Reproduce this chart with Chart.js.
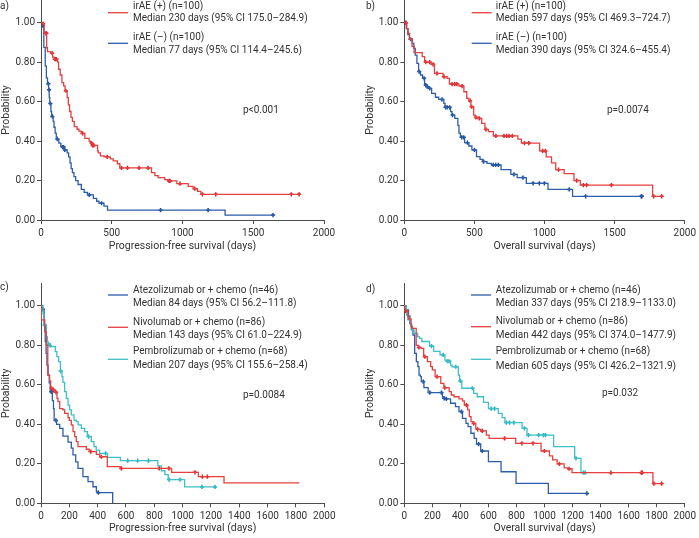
<!DOCTYPE html>
<html><head><meta charset="utf-8">
<script src="https://cdn.jsdelivr.net/npm/chart.js@4.4.1/dist/chart.umd.min.js"></script>
<style>
html,body{margin:0;padding:0;background:#fff;width:699px;height:538px;overflow:hidden;position:relative}
canvas{position:absolute}
</style></head><body>
<canvas id="pa"></canvas><canvas id="pb"></canvas><canvas id="pc"></canvas><canvas id="pd"></canvas>
<script>
// ---------- tick labels ----------
const probTicks = [0, 0.2, 0.4, 0.6, 0.8, 1.0];
const xTicksAB = [0, 500, 1000, 1500, 2000];
const xTicksCD = [0, 200, 400, 600, 800, 1000, 1200, 1400, 1600, 1800, 2000];

// ---------- a) PFS by irAE ----------
const aPosT = [0,12,22,40,46,70,82,95,118,124,136,148,160,170,185,193,202,212,222,235,255,268,285,310,340,352,365,400,405,420,445,490,510,540,557,781,805,828,875,895,960,1040,1075,1105,1130,1824];
const aPosS = [1,0.995,0.946,0.873,0.853,0.845,0.825,0.815,0.80,0.764,0.735,0.696,0.68,0.655,0.62,0.583,0.55,0.52,0.50,0.473,0.46,0.45,0.439,0.414,0.40,0.39,0.378,0.35,0.34,0.325,0.32,0.31,0.30,0.285,0.264,0.24,0.225,0.215,0.205,0.198,0.184,0.17,0.159,0.145,0.13,0.13];
const aPosC = [15,35,38,79,98,104,108,176,294,357,365,373,468,569,611,693,757,905,912,983,1087,1141,1235,1769,1824];
const aNegT = [0,8,20,30,38,46,54,58,62,70,75,86,92,100,108,115,126,140,148,165,185,195,205,213,222,233,245,262,285,305,328,370,393,410,445,470,1301,1640];
const aNegS = [1,0.985,0.875,0.78,0.72,0.69,0.66,0.62,0.59,0.55,0.525,0.50,0.47,0.44,0.42,0.41,0.39,0.375,0.37,0.355,0.34,0.32,0.29,0.26,0.24,0.22,0.20,0.18,0.155,0.14,0.127,0.11,0.095,0.085,0.07,0.05,0.025,0.025];
const aNegC = [10,52,57,66,80,115,153,160,168,341,428,845,1181,1640];

// ---------- b) OS by irAE ----------
const bPosT = [0,18,28,38,55,70,128,145,190,215,276,280,305,322,390,425,445,460,475,495,505,530,552,575,600,635,810,835,965,1012,1050,1080,1140,1210,1255,1771,1835];
const bPosS = [1,0.97,0.946,0.916,0.88,0.848,0.828,0.80,0.789,0.743,0.735,0.726,0.718,0.689,0.679,0.65,0.617,0.605,0.574,0.532,0.52,0.515,0.49,0.459,0.448,0.426,0.41,0.39,0.35,0.32,0.29,0.255,0.235,0.20,0.177,0.12,0.12];
const bPosC = [12,153,181,205,233,283,341,360,375,412,469,481,511,535,582,653,711,730,747,770,857,888,987,1006,1100,1230,1277,1300,1477,1778,1835];
const bNegT = [0,14,25,36,58,68,78,90,102,115,130,145,160,172,195,222,245,282,290,330,340,360,382,390,400,430,460,482,515,540,560,590,620,690,760,805,870,1025,1200,1694];
const bNegS = [1,0.97,0.94,0.916,0.895,0.87,0.836,0.794,0.752,0.735,0.718,0.684,0.676,0.667,0.642,0.622,0.611,0.591,0.571,0.549,0.532,0.515,0.48,0.44,0.419,0.392,0.375,0.355,0.321,0.307,0.296,0.287,0.279,0.255,0.231,0.215,0.186,0.155,0.12,0.12];
const bNegC = [5,45,106,141,153,163,181,269,294,306,323,344,410,424,450,500,565,634,652,671,782,846,919,963,999,1176,1293,1689,1694];

// ---------- c) PFS by drug ----------
const cAteT = [0,10,22,30,36,42,50,58,65,80,88,93,110,132,155,191,214,226,245,261,296,332,367,391,400,506];
const cAteS = [1,0.983,0.90,0.82,0.76,0.70,0.65,0.61,0.565,0.52,0.48,0.42,0.40,0.38,0.34,0.31,0.28,0.245,0.21,0.177,0.135,0.11,0.084,0.059,0.054,0];
const cAteC = [14,73,105,405];
const cNivT = [0,3,26,38,48,61,68,72,85,100,113,120,132,155,167,191,200,214,226,238,249,261,320,340,391,415,468,560,922,1111,1292,1824];
const cNivS = [1,0.93,0.87,0.80,0.65,0.62,0.59,0.583,0.574,0.5625,0.532,0.515,0.48,0.473,0.456,0.434,0.42,0.397,0.363,0.338,0.3125,0.287,0.274,0.262,0.248,0.236,0.186,0.177,0.157,0.135,0.104,0.104];
const cNivC = [75,89,106,351,426,567,835,903,1087,1139,1174];
const cPemT = [0,15,20,38,45,50,60,66,101,112,125,137,148,155,167,179,191,202,214,233,249,262,285,308,327,355,374,390,414,470,560,825,850,875,898,1014,1228];
const cPemS = [1,0.96,0.904,0.845,0.82,0.806,0.80,0.794,0.769,0.743,0.718,0.67,0.642,0.613,0.566,0.532,0.498,0.473,0.448,0.422,0.414,0.397,0.38,0.363,0.338,0.3125,0.287,0.27,0.253,0.233,0.216,0.19,0.165,0.145,0.12,0.083,0.083];
const cPemC = [26,54,64,139,336,456,612,682,758,904,981,1136,1228];

// ---------- d) OS by drug ----------
const dAteT = [0,15,30,40,50,62,74,86,97,105,115,121,140,170,272,280,290,330,365,390,415,440,455,475,498,515,545,600,690,797,1027,1302];
const dAteS = [1,0.98,0.95,0.91,0.88,0.853,0.76,0.718,0.693,0.65,0.642,0.617,0.586,0.561,0.54,0.532,0.529,0.507,0.49,0.465,0.43,0.405,0.389,0.355,0.329,0.30,0.265,0.211,0.16,0.101,0.05,0.05];
const dAteC = [135,182,265,284,300,407,530,556,1302];
const dNivT = [0,5,25,30,48,58,85,100,120,138,165,188,200,220,260,282,320,335,355,390,415,428,452,464,476,490,510,520,545,585,605,795,975,1035,1058,1090,1140,1165,1196,1773,1835];
const dNivS = [1,0.975,0.946,0.934,0.895,0.887,0.80,0.79,0.785,0.743,0.718,0.693,0.676,0.642,0.608,0.586,0.566,0.549,0.54,0.529,0.519,0.498,0.473,0.439,0.414,0.405,0.38,0.375,0.367,0.346,0.329,0.304,0.265,0.24,0.22,0.20,0.18,0.175,0.155,0.10,0.10];
const dNivC = [9,104,147,234,289,443,495,523,556,715,838,918,999,1106,1175,1473,1690,1697,1780,1835];
const dPemT = [0,15,25,45,55,70,95,108,125,180,210,255,290,300,330,340,385,395,410,495,520,565,600,670,698,718,840,875,1065,1215,1260,1289];
const dPemS = [1,0.954,0.93,0.904,0.878,0.861,0.845,0.836,0.82,0.797,0.77,0.752,0.726,0.72,0.70,0.692,0.65,0.62,0.583,0.557,0.54,0.512,0.48,0.456,0.434,0.409,0.38,0.346,0.287,0.228,0.155,0.155];
const dPemC = [194,277,308,320,367,400,485,620,644,727,750,781,857,885,958,992,1006,1224,1277,1289];

// ---------- styling ----------
const FONT = 'Roboto, "Open Sans", sans-serif';
const TXT = '#333333';
const AX = '#4d4d4d';
const RED = '#e5403f', BLUE = '#2c5ea9', CYAN = '#3fbfc7';
const RED_M = '#d9252a', BLUE_M = '#1d4d9c', CYAN_M = '#22b2bb';
const YMAX = 1.115;

function stepPts(T, S) { return T.map((t, i) => ({x: t, y: S[i]})); }
function censPts(T, S, C) {
  return C.map(c => { let v = S[0]; for (let i = 0; i < T.length; i++) { if (T[i] <= c) v = S[i]; } return {x: c, y: v}; });
}
function series(T, S, C, col, mcol) {
  return [
    {data: stepPts(T, S), stepped: true, borderColor: col, borderWidth: 1.3, pointRadius: 0, fill: false},
    {data: censPts(T, S, C), showLine: false, pointStyle: 'cross', pointRadius: 2.1,
     pointBorderColor: mcol, pointBorderWidth: 1.5, borderColor: mcol, backgroundColor: mcol}
  ];
}

function textPlugin(box, items) {
  return {
    id: 'kmtext',
    afterDraw(chart) {
      const ctx = chart.ctx;
      ctx.save();
      for (const it of items) {
        if (it.line) {
          ctx.strokeStyle = it.line; ctx.lineWidth = 1.3;
          ctx.beginPath(); ctx.moveTo(it.x1 - box.left, it.y - box.top); ctx.lineTo(it.x2 - box.left, it.y - box.top); ctx.stroke();
        } else {
          ctx.font = (it.size || 10) + 'px ' + FONT;
          ctx.fillStyle = TXT; ctx.textAlign = 'left'; ctx.textBaseline = 'middle';
          ctx.fillText(it.s, it.x - box.left, it.y - box.top);
        }
      }
      ctx.restore();
    }
  };
}

function panel(id, box, g, xTicks, xTitle, datasets, texts) {
  const cv = document.getElementById(id);
  cv.width = box.w; cv.height = box.h;
  cv.style.left = box.left + 'px'; cv.style.top = box.top + 'px';
  const gridOpts = {drawOnChartArea: false, drawTicks: true, tickLength: 4, color: AX, lineWidth: 1};
  new Chart(cv, {
    type: 'line',
    data: {datasets},
    options: {
      responsive: false, animation: false, devicePixelRatio: 1,
      layout: {padding: {top: g.pt, right: g.pr, left: 0, bottom: 0}},
      plugins: {legend: {display: false}, tooltip: {enabled: false}},
      scales: {
        x: {type: 'linear', min: 0, max: 2000,
            afterBuildTicks: s => { s.ticks = xTicks.map(v => ({value: v})); },
            afterFit: s => { s.height = g.xh; },
            grid: gridOpts, border: {display: true, color: AX, width: 1},
            ticks: {font: {family: FONT, size: 10}, color: TXT, padding: 3, maxRotation: 0, autoSkip: false,
                    callback: v => String(v)},
            title: {display: true, text: xTitle, font: {family: FONT, size: 10.5}, color: TXT, padding: {top: 0, bottom: g.xtb}}},
        y: {type: 'linear', min: 0, max: YMAX,
            afterBuildTicks: s => { s.ticks = probTicks.map(v => ({value: v})); },
            afterFit: s => { s.width = g.yw; },
            grid: gridOpts, border: {display: true, color: AX, width: 1},
            ticks: {font: {family: FONT, size: 10}, color: TXT, padding: 2, callback: v => Number(v).toFixed(2)},
            title: {display: true, text: 'Probability', font: {family: FONT, size: 10.5}, color: TXT, padding: {top: g.ytp, bottom: 0}}}
      }
    },
    plugins: [textPlugin(box, texts)]
  });
}

// a)
panel('pa', {left: 0, top: -12, w: 350, h: 277}, {pt: 12, pr: 26, xh: 45, yw: 41, xtb: 12.7, ytp: 0},
  xTicksAB, 'Progression-free survival (days)',
  [...series(aPosT, aPosS, aPosC, RED, RED_M), ...series(aNegT, aNegS, aNegC, BLUE, BLUE_M)],
  [{s: 'a)', x: 0, y: 6},
   {line: RED, x1: 108, x2: 128, y: 12.7},
   {s: 'irAE (+) (n=100)', x: 133, y: 6.5},
   {s: 'Median 230 days (95% CI 175.0–284.9)', x: 133, y: 18.5},
   {line: BLUE, x1: 108, x2: 128, y: 43.3},
   {s: 'irAE (–) (n=100)', x: 133, y: 37.3},
   {s: 'Median 77 days (95% CI 114.4–245.6)', x: 133, y: 50.7},
   {s: 'p<0.001', x: 243, y: 110}]);

// b)
panel('pb', {left: 350, top: -12, w: 349, h: 277}, {pt: 12, pr: 11.7, xh: 45, yw: 54.3, xtb: 12.7, ytp: 13.7},
  xTicksAB, 'Overall survival (days)',
  [...series(bPosT, bPosS, bPosC, RED, RED_M), ...series(bNegT, bNegS, bNegC, BLUE, BLUE_M)],
  [{s: 'b)', x: 366, y: 6},
   {line: RED, x1: 471.7, x2: 491.7, y: 12.7},
   {s: 'irAE (+) (n=100)', x: 495.7, y: 6.5},
   {s: 'Median 597 days (95% CI 469.3–724.7)', x: 495.7, y: 18.5},
   {line: BLUE, x1: 471.7, x2: 491.7, y: 43.3},
   {s: 'irAE (–) (n=100)', x: 495.7, y: 37.3},
   {s: 'Median 390 days (95% CI 324.6–455.4)', x: 495.7, y: 50.7},
   {s: 'p=0.0074', x: 607, y: 110}]);

// c)
panel('pc', {left: 0, top: 271, w: 350, h: 267}, {pt: 12.3, pr: 25.7, xh: 34.7, yw: 41, xtb: 3.4, ytp: 0},
  xTicksCD, 'Progression-free survival (days)',
  [...series(cNivT, cNivS, cNivC, RED, RED_M), ...series(cPemT, cPemS, cPemC, CYAN, CYAN_M), ...series(cAteT, cAteS, cAteC, BLUE, BLUE_M)],
  [{s: 'c)', x: 0, y: 287},
   {line: BLUE, x1: 108, x2: 128, y: 295},
   {s: 'Atezolizumab or + chemo (n=46)', x: 133, y: 290},
   {s: 'Median 84 days (95% CI 56.2–111.8)', x: 133, y: 303.3},
   {line: RED, x1: 108, x2: 128, y: 327.3},
   {s: 'Nivolumab or + chemo (n=86)', x: 133, y: 322.3},
   {s: 'Median 143 days (95% CI 61.0–224.9)', x: 133, y: 335},
   {line: CYAN, x1: 108, x2: 128, y: 359.3},
   {s: 'Pembrolizumab or + chemo (n=68)', x: 133, y: 351.7},
   {s: 'Median 207 days (95% CI 155.6–258.4)', x: 133, y: 365},
   {s: 'p=0.0084', x: 243, y: 395}]);

// d)
panel('pd', {left: 350, top: 271, w: 349, h: 267}, {pt: 12.3, pr: 13, xh: 34.7, yw: 54.3, xtb: 3.4, ytp: 13.7},
  xTicksCD, 'Overall survival (days)',
  [...series(dNivT, dNivS, dNivC, RED, RED_M), ...series(dPemT, dPemS, dPemC, CYAN, CYAN_M), ...series(dAteT, dAteS, dAteC, BLUE, BLUE_M)],
  [{s: 'd)', x: 366, y: 289},
   {line: BLUE, x1: 471, x2: 491, y: 295},
   {s: 'Atezolizumab or + chemo (n=46)', x: 495.7, y: 290},
   {s: 'Median 337 days (95% CI 218.9–1133.0)', x: 495.7, y: 303.3},
   {line: RED, x1: 471, x2: 491, y: 326.7},
   {s: 'Nivolumab or + chemo (n=86)', x: 495.7, y: 321.7},
   {s: 'Median 442 days (95% CI 374.0–1477.9)', x: 495.7, y: 335},
   {line: CYAN, x1: 471, x2: 491, y: 359.3},
   {s: 'Pembrolizumab or + chemo (n=68)', x: 495.7, y: 351.7},
   {s: 'Median 605 days (95% CI 426.2–1321.9)', x: 495.7, y: 366},
   {s: 'p=0.032', x: 602, y: 393}]);
</script>
</body></html>
